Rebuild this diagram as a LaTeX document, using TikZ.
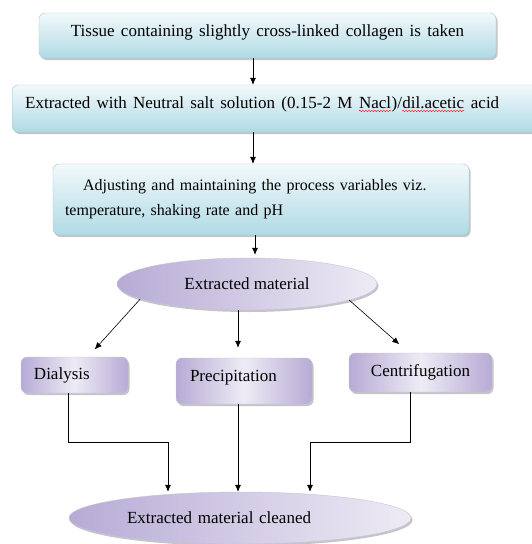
\documentclass[tikz,border=0pt]{standalone}
\usepackage{fontspec}
\setmainfont{Liberation Serif}
\usetikzlibrary{shapes.geometric,shadows,arrows.meta,decorations.pathmorphing}
\definecolor{bluetop}{HTML}{F2F9FB}
\definecolor{bluebot}{HTML}{B0DAE5}
\definecolor{blueline}{HTML}{9ECDD9}
\definecolor{lavdark}{HTML}{B7ABD5}
\definecolor{lavlight}{HTML}{EEEBF5}
\definecolor{lavline}{HTML}{C9C0DF}
\newcommand{\widespace}{\spaceskip 6.3pt\relax}
\begin{document}
\begin{tikzpicture}[x=1pt,y=-1pt,
  bluebox/.style={rounded corners=6pt, draw=blueline, top color=bluetop, bottom color=bluebot,
    drop shadow={shadow xshift=1.5pt,shadow yshift=-2pt,opacity=.45}, font=\fontsize{17}{20}\selectfont},
  lavbox/.style={rounded corners=6pt, draw=lavline, left color=lavdark, right color=lavdark, middle color=lavlight,
    drop shadow={shadow xshift=1.5pt,shadow yshift=-2pt,opacity=.45}, font=\fontsize{17}{20}\selectfont},
  lavellipse/.style={ellipse, draw=lavline, left color=lavdark, right color=lavlight, inner sep=0pt,
    drop shadow={shadow xshift=1.5pt,shadow yshift=-2pt,opacity=.45}, font=\fontsize{17}{20}\selectfont},
  plain/.style={inner sep=0pt, anchor=base west, font=\fontsize{17}{20}\selectfont\widespace},
  spellmark/.style={red, line width=0.4pt, decorate, decoration={snake, amplitude=0.8pt, segment length=3pt}},
  arr/.style={-{Latex[length=7pt,width=6pt]}, line width=0.6pt}]
\useasboundingbox[fill=white] (0,0) rectangle (531,544);
% top row of steps
\node[bluebox, minimum width=457pt, minimum height=45pt, text height=6pt, text depth=5pt, font=\fontsize{17}{20}\selectfont\widespace] (tissue) at (267.5,35.5) {Tissue containing slightly cross-linked collagen is taken};
\node[bluebox, anchor=west, minimum width=548pt, minimum height=47pt] (extract) at (12,108.5) {};
\node[plain] (ex1) at ([xshift=13pt]extract.west) {Extracted with Neutral salt solution (0.15-2 M};
\node[plain] (nacl) at ([xshift=6.3pt]ex1.base east) {Nacl};
\node[plain] (slash) at (nacl.base east) {)/};
\node[plain] (dil) at (slash.base east) {dil.acetic};
\node[plain] (acid) at ([xshift=6.3pt]dil.base east) {acid};
\node[bluebox, text width=392pt, align=left, inner xsep=12pt, minimum height=71pt, font=\fontsize{16}{25}\selectfont] (adjust) at (261,199.5) {\hspace*{18pt}Adjusting and maintaining the process variables viz.\\temperature, shaking rate and pH};
\node[lavellipse, minimum width=260pt, minimum height=52pt] (material) at (247,284) {Extracted material};
% cleaning methods
\node[lavbox, text width=81pt, align=left, inner xsep=13pt, minimum height=36pt] (dialysis) at (74.5,375) {Dialysis};
\node[lavbox, text width=108pt, align=left, inner xsep=14pt, minimum height=46pt, text height=6pt, text depth=6pt] (precip) at (244,381) {Precipitation};
\node[lavbox, minimum width=143pt, minimum height=39pt] (centri) at (420.5,372.5) {Centrifugation};
\node[lavellipse, minimum width=342pt, minimum height=52pt, text width=226pt, align=left] (cleaned) at (240,518) {Extracted material cleaned};
\coordinate (dl) at (168,442);
\coordinate (cr) at (310,442);
% spell-check marks
\draw[spellmark] ([yshift=-2.5pt]nacl.base west) -- ([yshift=-2.5pt]nacl.base east);
\draw[spellmark] ([yshift=-2.5pt]dil.base west) -- ([yshift=-2.5pt]dil.base east);
% arrows
\draw[arr] ([xshift=-14.5pt]tissue.south) -- ([xshift=-14.5pt]tissue.south |- extract.north);
\draw[arr] ([xshift=-8pt]adjust.north |- extract.south) -- ([xshift=-8pt]adjust.north);
\draw[arr, shorten >=3pt] ([xshift=-6pt]adjust.south) -- ([xshift=-6pt]adjust.south |- material.north);
\draw[arr, shorten >=10pt] (material.188) -- ([xshift=13.5pt]dialysis.north);
\draw[arr, shorten >=10pt] ([xshift=-6pt]precip.north |- material.south) -- ([xshift=-6pt]precip.north);
\draw[arr, shorten >=13pt] (material.351) -- ([xshift=-11.5pt]centri.north);
\draw[arr] ([xshift=-6.5pt]dialysis.south) |- (dl) -- (dl |- cleaned.north);
\draw[arr] ([xshift=-6pt]precip.south) -- ([xshift=-6pt]precip.south |- cleaned.north);
\draw[arr] ([xshift=-10.5pt]centri.south) |- (cr) -- (cr |- cleaned.north);
\end{tikzpicture}
\end{document}
